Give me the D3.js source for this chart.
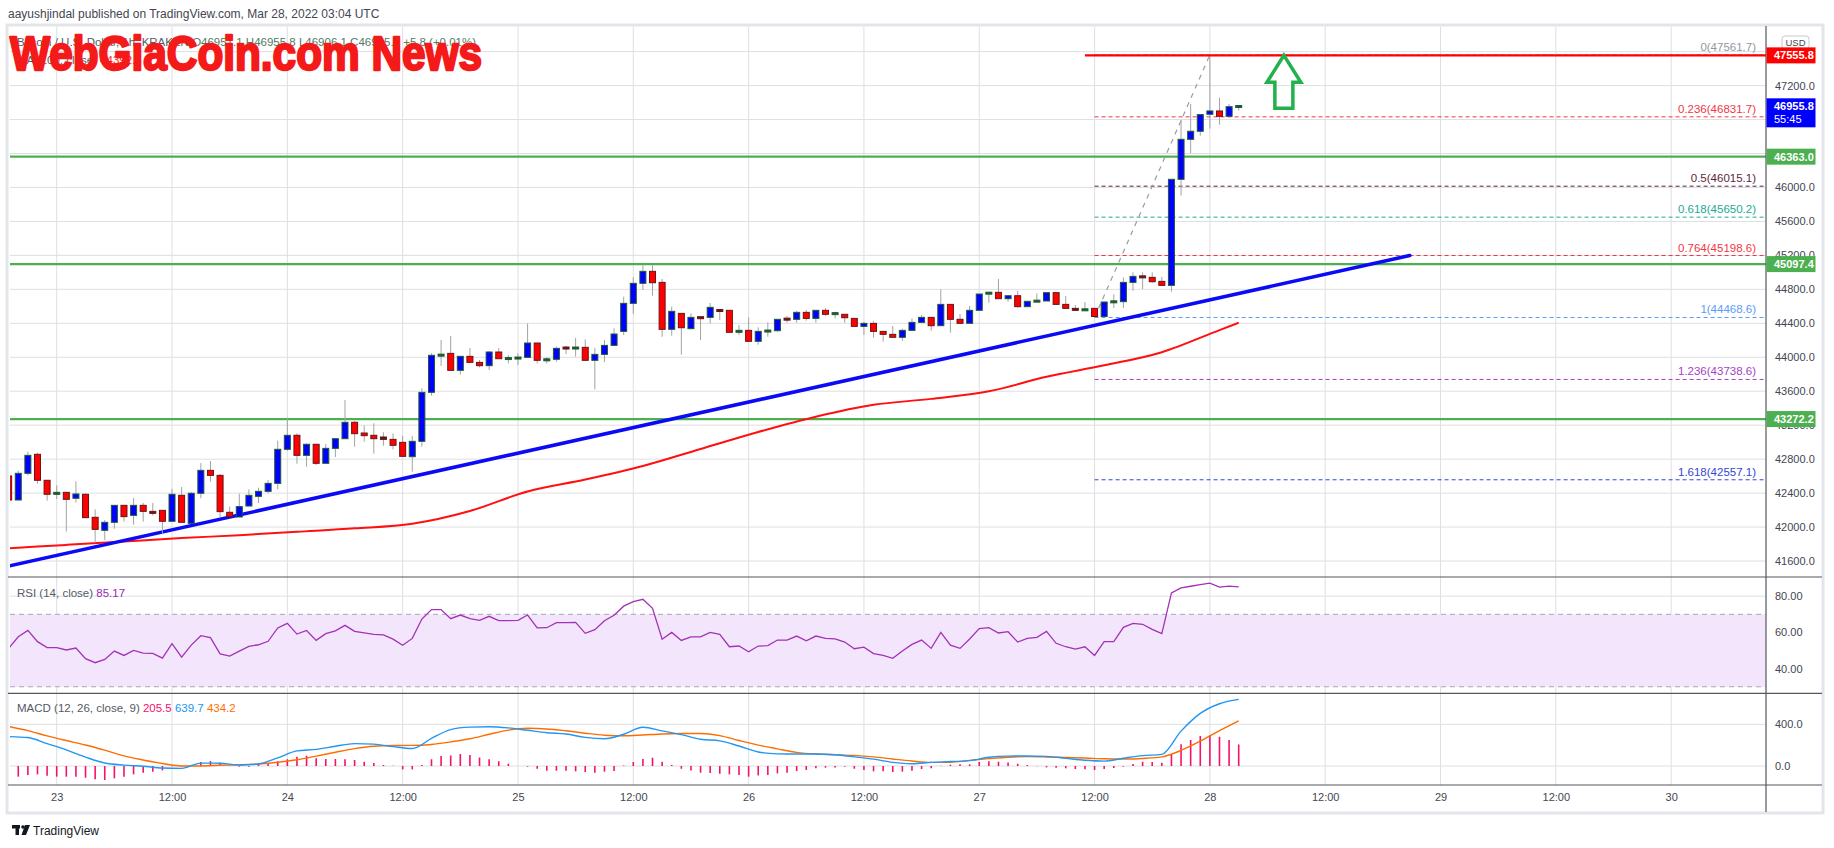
<!DOCTYPE html>
<html>
<head>
<meta charset="utf-8">
<script src="https://cdn.jsdelivr.net/npm/d3@7/dist/d3.min.js"></script>
<style>
html,body{margin:0;padding:0;background:#ffffff;}
svg{display:block;}
text{font-family:"Liberation Sans",Arial,sans-serif;}
</style>
</head>
<body>
<svg id="chart" width="1834" height="848"></svg>
<script>
// ---------------- DATA ----------------
// hours relative to Mar 23 00:00 UTC; first candle = Mar 22 19:00
const firstHour = -5;
const candleOpen = [42602,42319,42633,42857,42551,42386,42409,42339,42386,42115,
41962,42056,42256,42138,42256,42177,42197,42068,42374,42044,
42398,42668,42609,42174,42119,42248,42362,42421,42515,42916,
43081,42845,42975,42751,42927,43041,43234,43108,43081,43061,
43033,42998,42829,43010,43587,44023,44046,43846,44011,43940,
43901,44062,43983,43987,43999,44168,43964,43976,44113,44105,
44117,43964,44034,44140,44305,44635,44871,45012,44882,44329,
44517,44337,44470,44470,44553,44553,44294,44317,44188,44305,
44313,44451,44447,44529,44458,44553,44510,44506,44458,44364,
44399,44305,44270,44235,44317,44411,44470,44372,44623,44447,
44400,44553,44745,44765,44690,44725,44596,44659,44663,44761,
44623,44576,44553,44576,44480,44651,44655,44882,44949,44941,
44894,44847,46096,46567,46662,46862,46901,46838,46951.1];
const candleHigh = [42630,42664,42888,42876,42551,42492,42409,42539,42398,42209,
42083,42256,42256,42343,42284,42284,42197,42449,42472,42413,
42755,42778,42625,42241,42394,42445,42464,42555,43018,43289,
43104,42986,42978,42978,43041,43497,43249,43194,43222,43116,
43104,43073,43073,43634,44046,44203,44250,44011,44109,43968,
44074,44109,44027,44046,44396,44168,43999,44125,44133,44227,
44211,44113,44203,44341,44714,44941,45083,45083,44922,44596,
44517,44517,44470,44639,44553,44553,44380,44470,44352,44411,
44447,44486,44545,44557,44553,44580,44537,44506,44458,44419,
44427,44305,44368,44337,44458,44498,44470,44800,44623,44509,
44604,44745,44765,44922,44725,44780,44659,44753,44761,44761,
44722,44616,44651,44576,44651,44741,44941,45000,45000,45000,
44949,46096,46795,46983,46858,47561.7,47058,46983,46955.8];
const candleLow = [42300,42315,42609,42511,42311,42331,41946,42288,42111,41816,
41848,41981,42064,42028,42064,42138,41915,42068,42056,42044,
42339,42535,42119,42123,42119,42248,42284,42398,42445,42900,
42747,42711,42731,42751,42825,43041,42947,43006,42865,42959,
42916,42829,42652,42947,43548,43897,43846,43795,43940,43881,
43850,43983,43928,43909,43999,43928,43928,43948,44038,44007,
43964,43622,43944,44140,44262,44509,44792,44725,44242,44254,
44030,44329,44203,44400,44439,44294,44262,44188,44148,44242,
44301,44407,44407,44431,44407,44486,44458,44407,44364,44262,
44231,44184,44235,44195,44317,44400,44313,44372,44290,44400,
44400,44553,44643,44690,44655,44584,44596,44659,44663,44623,
44576,44553,44553,44468.6,44470,44580,44580,44784,44804,44878,
44847,44773,45904,46402,46610,46693,46740,46838,46906.1];
const candleClose = [42319,42633,42845,42551,42386,42409,42327,42390,42111,41973,
42056,42256,42123,42256,42185,42170,42068,42386,42056,42398,
42668,42609,42182,42123,42241,42374,42421,42515,42916,43081,
42845,42975,42751,42927,43041,43234,43100,43077,43041,43033,
42963,42833,43010,43587,44023,44027,43846,44011,43940,43901,
44062,43983,43987,43995,44168,43964,43976,44105,44105,44113,
43964,44034,44140,44274,44635,44871,45012,44878,44329,44541,
44348,44470,44462,44588,44549,44294,44317,44188,44305,44313,
44447,44447,44529,44458,44553,44506,44518,44466,44364,44399,
44305,44270,44235,44317,44411,44470,44372,44623,44447,44400,
44553,44745,44765,44690,44725,44596,44659,44663,44761,44623,
44576,44553,44565,44480,44651,44655,44882,44953,44945,44890,
44847,46096,46567,46662,46858,46901,46838,46951.1,46955.8];

// 100-period moving average, read every 6 hours
const maHours  = [-5,1,7,13,19,25,31,37,43,49,55,61,67,73,79,85,91,97,103,109,115,121,123];
const maValues = [41750,41790,41830,41870,41905,41945,41985,42040,42190,42420,42560,42720,42920,43120,43300,43440,43510,43600,43770,43905,44060,44320,44407];

// RSI(14), one value per candle
const rsiValues = [51.2,57.6,61.1,54.9,51.6,51.6,50.3,51.4,45.5,43.3,
45.1,49.7,47.3,50.1,48.6,48.4,45.8,53.8,46.4,53.0,
58.2,57.1,48.2,46.9,49.7,52.3,53.2,55.1,62.5,65.0,
59.1,61.1,55.6,59.3,60.9,63.9,60.6,59.7,58.9,58.7,
56.3,52.9,56.7,67.4,72.6,72.6,67.6,69.6,67.6,66.7,
68.9,66.5,66.5,66.7,69.6,62.5,62.6,65.4,65.4,65.6,
59.5,61.5,66.5,69.5,74.5,77.0,78.3,73.3,56.2,60.0,
55.6,57.6,57.5,60.0,58.9,52.1,52.5,49.3,52.5,52.7,
55.8,55.8,58.0,55.4,58.0,56.7,56.5,54.7,51.0,51.9,
48.3,47.3,45.7,49.7,53.4,55.8,51.2,60.0,53.0,51.2,
56.4,62.1,62.6,59.7,60.4,54.7,56.7,57.3,60.6,54.0,
52.1,50.8,52.1,47.3,54.9,54.9,62.8,65.0,64.5,61.7,
59.3,81.8,84.6,85.5,86.4,87.2,85.0,85.6,85.17];

// MACD(12,26,9): line and signal read every 2 hours from h=-5, histogram per candle
const macdStep = 2;
const macdLine = [283,274,215,155,86,29,9,-2,-19,-22,
28,27,10,20,78,145,160,190,215,210,
186,168,265,350,373,377,366,343,320,307,
275,262,305,372,337,302,257,242,192,135,
117,115,115,108,88,66,35,22,35,43,
52,84,95,96,93,74,55,47,75,100,
112,335,505,598,639.7];
const signalLine = [380,340,290,245,202,152,97,58,24,1,
1,7,12,20,36,60,95,132,167,190,
197,198,207,232,262,305,345,362,356,338,
315,296,290,298,308,312,312,292,245,201,
165,131,115,109,102,88,67,48,35,37,
54,71,85,90,87,82,77,70,68,73,
88,150,238,340,434.2];
const macdHist = [-100,-102,-86,-80,-93,-102,-102,-102,-112,-128,
-134,-118,-102,-80,-64,-54,-42,-3,-6,5,
38,48,32,3,-6,-6,13,26,45,64,
90,99,74,67,67,64,58,42,29,10,
3,-32,-32,10,64,96,102,115,106,83,
64,45,22,0,-6,-26,-45,-45,-45,-51,
-58,-64,-54,-48,5,38,67,80,42,10,
-26,-42,-64,-67,-74,-80,-86,-102,-90,-86,
-70,-64,-48,-38,-22,-16,-13,-6,-26,-38,
-51,-51,-58,-54,-45,-29,-22,3,13,16,
16,38,45,42,35,22,10,-3,-13,-16,
-22,-29,-32,-38,-29,-19,-6,19,42,38,
32,115,208,250,288,298,282,250,205.5];

const xTickHours  = [0,12,24,36,48,60,72,84,96,108,120,132,144,156,168];
const xTickLabels = ["23","12:00","24","12:00","25","12:00","26","12:00","27","12:00","28","12:00","29","12:00","30"];
// axis labels that stay visible (46400, 46800, 47600 sit under the price tags)
const priceTicks = [41600,42000,42400,42800,43200,43600,44000,44400,44800,45200,45600,46000,47200];
const priceGridTicks = [41600,42000,42400,42800,43200,43600,44000,44400,44800,45200,45600,46000,46400,46800,47200,47600];
const rsiTicks  = [40,60,80];
const rsiBand   = [30,70];
const macdTicks = [0,400];

const supportLevels   = [46363.0, 45097.4, 43272.2];
const resistanceLevel = 47555.8;
const resistanceStartHour = 107;
const lastPrice = 46955.8;
const countdown = "55:45";

const fibRatios = [0,0.236,0.5,0.618,0.764,1,1.236,1.618];
const fibPrices = [47561.7,46831.7,46015.1,45650.2,45198.6,44468.6,43738.6,42557.1];
const fibStartHour = 108;
const fibSwingHours  = [108,120];
const fibSwingPrices = [44468.6,47561.7];

const trendHours  = [-5,140.8];
const trendPrices = [41541,45198.6];

const arrowHour = 127.7;

// ---------------- STYLE / LAYOUT ----------------
const fibColors = ["#9598a1","#f23645","#5d1f3b","#22ab94","#f23645","#5b9cf6","#a63fc0","#3346d3"];
const L=10, R=1766;
const PT=27, PB=577, RT=577, RB=693.3, MT=693.3, MB=785, XB=812;
const gridCol = "#dedfe3";
const sepCol = "#55575f";
const textCol = "#434651";

const svg = d3.select("#chart");
const defs = svg.append("defs");
function addClip(id,y0,y1){
  defs.append("clipPath").attr("id",id).append("rect")
    .attr("x",L).attr("y",y0).attr("width",R-L).attr("height",y1-y0);
}
addClip("clipP",PT,PB); addClip("clipR",RT,RB); addClip("clipM",MT,MB);

const x  = d3.scaleLinear().domain([-4.86,177.87]).range([L,R]);
const yP = d3.scaleLinear().domain([41412,47890]).range([PB,PT]);
const yR = d3.scaleLinear().domain([26.4,90.6]).range([RB,RT]);
const yM = d3.scaleLinear().domain([-182,698]).range([MB,MT]);

// background & frame
svg.append("rect").attr("width",1834).attr("height",848).attr("fill","#fff");
svg.append("rect").attr("x",7).attr("y",25).attr("width",1816).attr("height",788)
  .attr("fill","none").attr("stroke","#e3e5ea").attr("stroke-width",3);

// header text
svg.append("text").attr("x",8).attr("y",18).attr("font-size",12).attr("fill",textCol)
  .text("aayushjindal published on TradingView.com, Mar 28, 2022 03:04 UTC");

// ---------- grid ----------
const grid = svg.append("g");
grid.selectAll("line.v").data(xTickHours).enter().append("line")
  .attr("x1",d=>x(d)).attr("x2",d=>x(d)).attr("y1",PT).attr("y2",MB)
  .attr("stroke",gridCol).attr("stroke-width",1);
grid.selectAll("line.hp").data(priceGridTicks).enter().append("line")
  .attr("x1",L).attr("x2",R).attr("y1",d=>yP(d)).attr("y2",d=>yP(d))
  .attr("stroke",gridCol).attr("stroke-width",1).attr("clip-path","url(#clipP)");

// RSI band
svg.append("rect").attr("x",L).attr("width",R-L)
  .attr("y",yR(rsiBand[1])).attr("height",yR(rsiBand[0])-yR(rsiBand[1]))
  .attr("fill","#f3e6fc");
grid.selectAll("line.hr").data(rsiTicks).enter().append("line")
  .attr("x1",L).attr("x2",R).attr("y1",d=>yR(d)).attr("y2",d=>yR(d))
  .attr("stroke",d=>d===80?gridCol:"#d6cde0").attr("stroke-width",1);
svg.selectAll("line.band").data(rsiBand).enter().append("line")
  .attr("x1",L).attr("x2",R).attr("y1",d=>yR(d)).attr("y2",d=>yR(d))
  .attr("stroke","#a9a6b4").attr("stroke-dasharray","5,4").attr("stroke-width",1);
grid.selectAll("line.hm").data(macdTicks).enter().append("line")
  .attr("x1",L).attr("x2",R).attr("y1",d=>yM(d)).attr("y2",d=>yM(d))
  .attr("stroke",gridCol).attr("stroke-width",1);

// ---------- price pane ----------
const pp = svg.append("g").attr("clip-path","url(#clipP)");

pp.selectAll("line.sup").data(supportLevels).enter().append("line")
  .attr("x1",L).attr("x2",R).attr("y1",d=>yP(d)).attr("y2",d=>yP(d))
  .attr("stroke","#4caf50").attr("stroke-width",2.2);

const fibG = pp.append("g");
fibPrices.forEach((p,i)=>{
  fibG.append("line").attr("x1",x(fibStartHour)).attr("x2",R)
    .attr("y1",yP(p)).attr("y2",yP(p))
    .attr("stroke",fibColors[i]).attr("stroke-width",1).attr("stroke-dasharray","4,3");
});
pp.append("line")
  .attr("x1",x(fibSwingHours[0])).attr("y1",yP(fibSwingPrices[0]))
  .attr("x2",x(fibSwingHours[1])).attr("y2",yP(fibSwingPrices[1]))
  .attr("stroke","#9a9ca3").attr("stroke-width",1.2).attr("stroke-dasharray","5,5");

pp.append("path").datum(maHours.map((h,i)=>[h,maValues[i]]))
  .attr("d",d3.line().x(d=>x(d[0])).y(d=>yP(d[1])).curve(d3.curveMonotoneX))
  .attr("fill","none").attr("stroke","#ff1010").attr("stroke-width",2);

pp.append("line")
  .attr("x1",x(trendHours[0])).attr("y1",yP(trendPrices[0]))
  .attr("x2",x(trendHours[1])).attr("y2",yP(trendPrices[1]))
  .attr("stroke","#0a0af5").attr("stroke-width",3.6).attr("stroke-linecap","round");

const candles = candleOpen.map((o,i)=>({h:firstHour+i,o:o,hi:candleHigh[i],lo:candleLow[i],c:candleClose[i]}));
const cg = pp.append("g");
cg.selectAll("line.wick").data(candles).enter().append("line")
  .attr("x1",d=>x(d.h)).attr("x2",d=>x(d.h))
  .attr("y1",d=>yP(d.hi)).attr("y2",d=>yP(d.lo))
  .attr("stroke","#a3a3a3").attr("stroke-width",1);
const bw = 6;
cg.selectAll("rect.body").data(candles).enter().append("rect")
  .attr("x",d=>x(d.h)-bw/2)
  .attr("width",bw)
  .attr("y",d=>{const t=yP(Math.max(d.o,d.c)),b=yP(Math.min(d.o,d.c));return (b-t<2)?(t+b)/2-1:t;})
  .attr("height",d=>Math.max(2,yP(Math.min(d.o,d.c))-yP(Math.max(d.o,d.c))))
  .attr("fill",d=>{const small=Math.abs(yP(d.o)-yP(d.c))<2.5; if(d.c>=d.o) return small?"#1f5a36":"#0000ff"; return small?"#6b1414":"#ff0000";})
  .attr("stroke",d=>d.c>=d.o?"#1f5a36":"#6b1414").attr("stroke-width",1);

pp.append("line").attr("x1",x(resistanceStartHour)).attr("x2",R)
  .attr("y1",yP(resistanceLevel)).attr("y2",yP(resistanceLevel))
  .attr("stroke","#ff0000").attr("stroke-width",2.2);

fibPrices.forEach((p,i)=>{
  svg.append("text").attr("x",1756).attr("y",yP(p)-4).attr("text-anchor","end")
    .attr("font-size",11.5).attr("fill",fibColors[i])
    .text(String(fibRatios[i])+"("+p.toFixed(1)+")");
});

{
  const tx = x(arrowHour), ty = yP(resistanceLevel);
  const pth = `M${tx},${ty} L${tx+17},${ty+27} L${tx+9},${ty+27} L${tx+9},${ty+53} L${tx-9},${ty+53} L${tx-9},${ty+27} L${tx-17},${ty+27} Z`;
  svg.append("path").attr("d",pth).attr("fill","none").attr("stroke","#22b14c")
    .attr("stroke-width",3.5).attr("stroke-linejoin","miter");
}

// ---------- RSI pane ----------
svg.append("path").datum(rsiValues.map((v,i)=>[firstHour+i,v]))
  .attr("clip-path","url(#clipR)")
  .attr("d",d3.line().x(d=>x(d[0])).y(d=>yR(d[1])))
  .attr("fill","none").attr("stroke","#a232b6").attr("stroke-width",1.3);

// ---------- MACD pane ----------
const mg = svg.append("g").attr("clip-path","url(#clipM)");
mg.selectAll("line.hist").data(macdHist).enter().append("line")
  .attr("x1",(d,i)=>x(firstHour+i)).attr("x2",(d,i)=>x(firstHour+i))
  .attr("y1",yM(0)).attr("y2",d=>yM(d))
  .attr("stroke","#f5126b").attr("stroke-width",1.6);
mg.append("path").datum(signalLine.map((v,i)=>[firstHour+i*macdStep,v]))
  .attr("d",d3.line().x(d=>x(d[0])).y(d=>yM(d[1])).curve(d3.curveMonotoneX))
  .attr("fill","none").attr("stroke","#ff6d00").attr("stroke-width",1.4);
mg.append("path").datum(macdLine.map((v,i)=>[firstHour+i*macdStep,v]))
  .attr("d",d3.line().x(d=>x(d[0])).y(d=>yM(d[1])).curve(d3.curveMonotoneX))
  .attr("fill","none").attr("stroke","#2196f3").attr("stroke-width",1.4);

// ---------- separators ----------
[PB,RB,MB].forEach(yy=>{
  svg.append("line").attr("x1",8).attr("x2",1822).attr("y1",yy).attr("y2",yy)
    .attr("stroke",sepCol).attr("stroke-width",1.2);
});
svg.append("line").attr("x1",R).attr("x2",R).attr("y1",26).attr("y2",XB)
  .attr("stroke",sepCol).attr("stroke-width",1.2);

// ---------- axes ----------
const pAxis = svg.append("g").attr("transform",`translate(${R},0)`)
  .call(d3.axisRight(yP).tickValues(priceTicks).tickSize(0).tickPadding(9).tickFormat(d=>d.toFixed(1)));
const rAxis = svg.append("g").attr("transform",`translate(${R},0)`)
  .call(d3.axisRight(yR).tickValues(rsiTicks).tickSize(0).tickPadding(9).tickFormat(d=>d.toFixed(2)));
const mAxis = svg.append("g").attr("transform",`translate(${R},0)`)
  .call(d3.axisRight(yM).tickValues(macdTicks).tickSize(0).tickPadding(9).tickFormat(d=>d.toFixed(1)));
const xAxis = svg.append("g").attr("transform",`translate(0,${MB})`)
  .call(d3.axisBottom(x).tickValues(xTickHours).tickSize(0).tickPadding(8).tickFormat((d,i)=>xTickLabels[i]));
[pAxis,rAxis,mAxis,xAxis].forEach(a=>{
  a.select(".domain").remove();
  a.selectAll("text").attr("font-size",11).attr("fill",textCol)
    .attr("font-family","'Liberation Sans',Arial,sans-serif");
});

// USD label
svg.append("rect").attr("x",1782).attr("y",36).attr("width",27).attr("height",13).attr("rx",3)
  .attr("fill","#fff").attr("stroke","#c9cbd1");
svg.append("text").attr("x",1795.5).attr("y",46.3).attr("text-anchor","middle")
  .attr("font-size",9.5).attr("fill",textCol).text("USD");

// price labels on axis
function priceTag(val,color,extra){
  const yy = yP(val);
  const h = extra?29:16;
  svg.append("rect").attr("x",R+0.5).attr("y",yy-8).attr("width",49).attr("height",h).attr("fill",color);
  svg.append("text").attr("x",R+8).attr("y",yy+4).attr("font-size",11).attr("fill","#fff")
    .attr("font-weight","bold").text(val.toFixed(1));
  if(extra){
    svg.append("text").attr("x",R+8).attr("y",yy+17).attr("font-size",11).attr("fill","#fff").text(extra);
  }
}
priceTag(resistanceLevel,"#ff0000");
supportLevels.forEach(v=>priceTag(v,"#4caf50"));
priceTag(lastPrice,"#0000ff",countdown);

// ---------- legends ----------
const lg1 = svg.append("text").attr("x",17).attr("y",46).attr("font-size",11.5);
lg1.append("tspan").attr("fill","#555a66").text("Bitcoin / U.S. Dollar, 1h, KRAKEN  ");
const lastIdx = candleOpen.length-1;
[["O",candleOpen[lastIdx]],["H",candleHigh[lastIdx]],["L",candleLow[lastIdx]],["C",candleClose[lastIdx]]].forEach(([k,v])=>{
  lg1.append("tspan").attr("fill","#4f7a63").text(k+v.toFixed(1)+"  ");
});
lg1.append("tspan").attr("fill","#4f7a63").text("+5.8 (+0.01%)");
const lg2 = svg.append("text").attr("x",17).attr("y",64).attr("font-size",11.5);
lg2.append("tspan").attr("fill","#555a66").text("MA (100, close)  ");
lg2.append("tspan").attr("fill","#ff2020").text("44392.5");

const lr = svg.append("text").attr("x",17).attr("y",597).attr("font-size",11.5);
lr.append("tspan").attr("fill","#555a66").text("RSI (14, close)  ");
lr.append("tspan").attr("fill","#9c27b0").text(rsiValues[rsiValues.length-1].toFixed(2));

const lm = svg.append("text").attr("x",17).attr("y",712).attr("font-size",11.5);
lm.append("tspan").attr("fill","#555a66").text("MACD (12, 26, close, 9)  ");
lm.append("tspan").attr("fill","#f5126b").text(macdHist[macdHist.length-1].toFixed(1)+"  ");
lm.append("tspan").attr("fill","#2196f3").text(macdLine[macdLine.length-1].toFixed(1)+"  ");
lm.append("tspan").attr("fill","#ff6d00").text(signalLine[signalLine.length-1].toFixed(1));

// ---------- watermark ----------
svg.append("text").attr("x",10).attr("y",70)
  .attr("font-family","'DejaVu Sans Condensed','Liberation Sans Narrow','DejaVu Sans',sans-serif")
  .attr("font-weight","bold").attr("font-size",49)
  .attr("textLength",472).attr("lengthAdjust","spacingAndGlyphs")
  .attr("fill","#f51a1a").attr("stroke","#f51a1a").attr("stroke-width",2.4).attr("stroke-linejoin","round")
  .text("WebGiaCoin.com News");

// ---------- footer logo ----------
const fg = svg.append("g").attr("fill","#131722");
fg.append("rect").attr("x",12).attr("y",825).attr("width",8).attr("height",3.5);
fg.append("rect").attr("x",15.5).attr("y",825).attr("width",3.5).attr("height",10);
fg.append("circle").attr("cx",23).attr("cy",827).attr("r",1.8);
fg.append("path").attr("d","M25,825 L30,825 L26,835 L21.5,835 Z");
svg.append("text").attr("x",33).attr("y",835).attr("font-size",12).attr("fill","#131722")
  .text("TradingView");
</script>
</body>
</html>
